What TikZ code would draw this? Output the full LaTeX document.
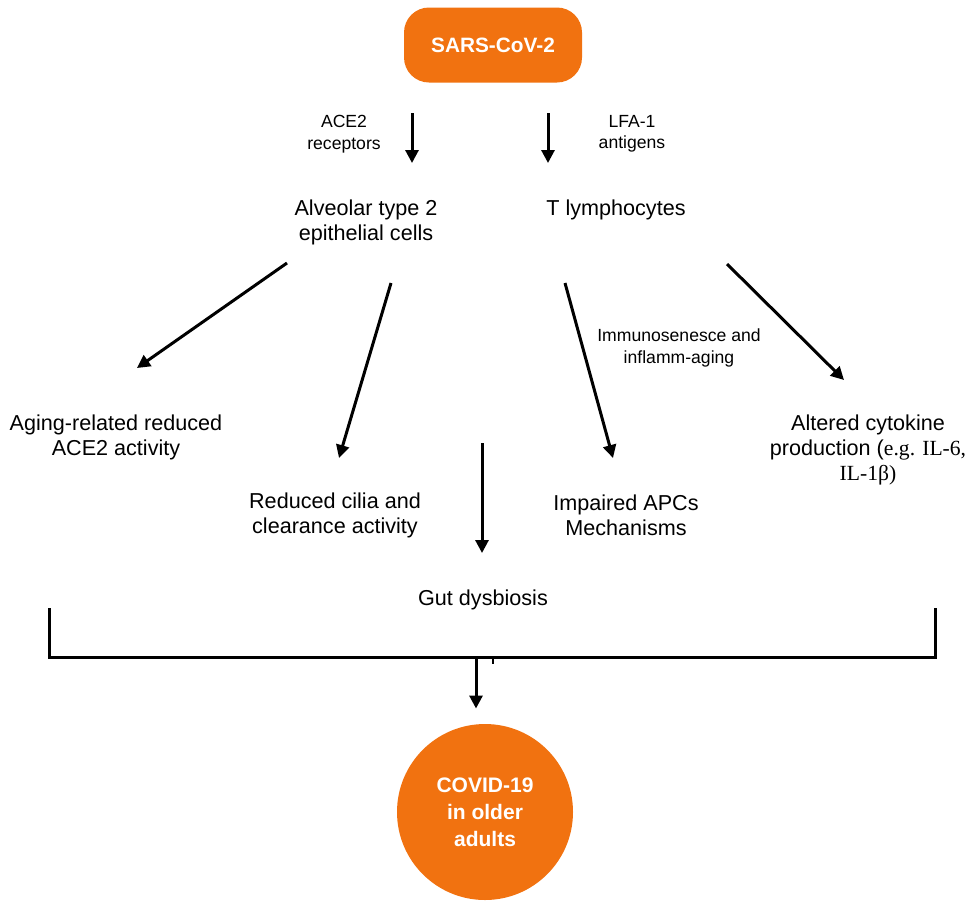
\documentclass[tikz,border=0pt]{standalone}
\usepackage{fontspec}
\setmainfont{Liberation Sans}
\newfontfamily\timesfont{Liberation Serif}
\usetikzlibrary{arrows.meta}
\definecolor{covorange}{RGB}{241,114,16}

\begin{document}
\begin{tikzpicture}[x=0.5pt,y=-0.5pt,->,>={Triangle[length=6.5pt,width=6.5pt]},
        line width=1.5pt,
        txt/.style={align=center,inner sep=0,font=\fontsize{10.8}{12.5}\selectfont},
        small/.style={align=center,inner sep=0,font=\fontsize{8.8}{10.7}\selectfont},
        virusbox/.style={fill=covorange,rounded corners=12.5pt,minimum width=89pt,
          minimum height=37.5pt,text=white,font=\fontsize{10.4}{12}\selectfont\bfseries},
        outcome/.style={circle,fill=covorange,minimum size=88pt,inner sep=0,align=center,
          text=white,font=\fontsize{10.5}{13.5}\selectfont\bfseries}]

  \useasboundingbox (0,0) rectangle (968,900);

  \node[virusbox] (sars) at (493,45) {SARS-CoV-2};
  \node[small] (ace) at (344,134) {ACE2\\receptors};
  \node[small] (lfa) at (632,134) {LFA-1\\antigens};
  \node[txt] (alv) at (366,222) {Alveolar type 2\\epithelial cells};
  \node[txt] (tly) at (616,210) {T lymphocytes};
  \node[small] (immuno) at (679,348) {Immunosenesce and\\inflamm-aging};
  \node[txt] (aging) at (116,437) {Aging-related reduced\\ACE2 activity};
  \node[txt] (cilia) at (335,515) {Reduced cilia and\\clearance activity};
  \node[txt] (apc) at (626,515) {Impaired APCs\\Mechanisms};
  \node[txt] (cyt) at (868,450) {Altered cytokine\\production ({\timesfont e.g. IL-6,}\\{\timesfont IL-1β)}};
  \node[txt] (gut) at (483,600) {Gut dysbiosis};
  \node[outcome] (covid) at (485,812) {COVID-19\\in older\\adults};

  \coordinate (gtop) at (482,443);
  \coordinate (bl) at (49,608);
  \coordinate (bm) at (476,657);
  \coordinate (br) at (935,608);
  \coordinate (tick) at (493,657);
  \coordinate (tickb) at (493,664);

  \path ([shift={(-81,68)}]sars.center) edge ([shift={(46,-59)}]alv.center)
        ([shift={(55,68)}]sars.center)  edge ([shift={(-68,-47)}]tly.center)
        ([shift={(-79,41)}]alv.center)  edge ([shift={(21,-69)}]aging.center)
        ([shift={(25,61)}]alv.center)   edge ([shift={(4,-57)}]cilia.center)
        ([shift={(-51,73)}]tly.center)  edge ([shift={(-13,-57)}]apc.center)
        ([shift={(111,54)}]tly.center)  edge ([shift={(-24,-70)}]cyt.center)
        (gtop)                          edge ([shift={(-1,-47)}]gut.center)
        (bm)                            edge ([shift={(-9,-14)}]covid.north);

  % bracket under the effects
  \draw[-] (bl) |- (bm) -| (br);
  \draw[-,line width=1pt] (tick) -- (tickb);

\end{tikzpicture}
\end{document}
